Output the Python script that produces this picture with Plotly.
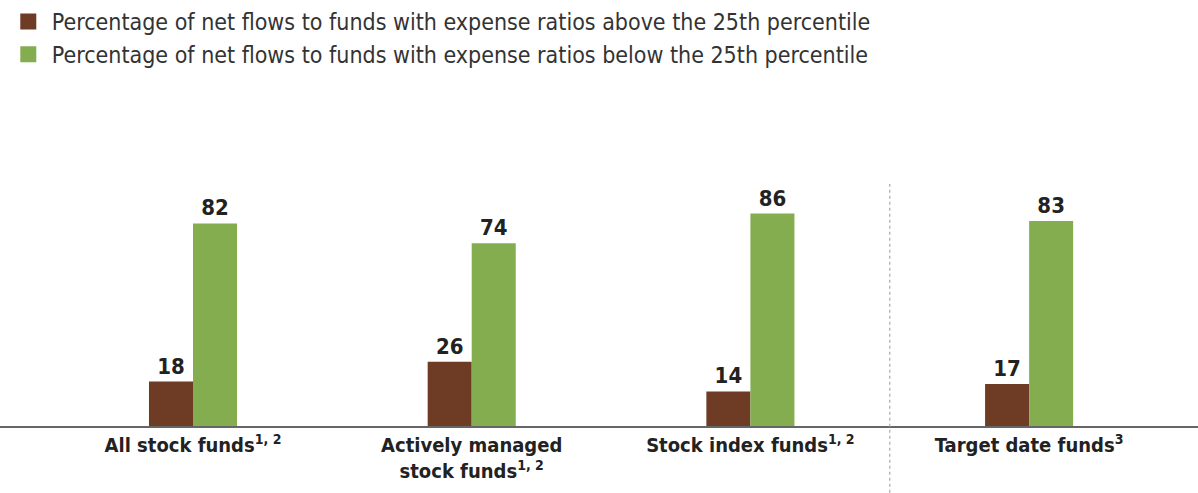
import plotly.graph_objects as go

categories = ["All stock funds<sup>1, 2</sup>",
              "Actively managed<br>stock funds<sup>1, 2</sup>",
              "Stock index funds<sup>1, 2</sup>",
              "Target date funds<sup>3</sup>"]
above_25th = [18, 26, 14, 17]
below_25th = [82, 74, 86, 83]
series_names = ["Percentage of net flows to funds with expense ratios above the 25th percentile",
                "Percentage of net flows to funds with expense ratios below the 25th percentile"]

BROWN = "#6E3B24"
GREEN = "#84AD50"
FONT = "DejaVu Sans Condensed"

x = list(range(len(categories)))

fig = go.Figure()
for vals, col in [(above_25th, BROWN), (below_25th, GREEN)]:
    fig.add_trace(go.Bar(
        x=x, y=vals, marker=dict(color=col, line=dict(width=0)),
        text=vals, texttemplate="<b>%{y}</b>", textposition="outside",
        textfont=dict(family=FONT, size=22, color="#222222"),
        cliponaxis=False, showlegend=False, hoverinfo="skip"))

# legend entries
for name, col in zip(series_names, [BROWN, GREEN]):
    fig.add_trace(go.Scatter(
        x=[None], y=[None], mode="markers", name=name,
        marker=dict(symbol="square", size=16, color=col)))

fig.add_shape(type="line", xref="x", yref="paper", x0=2.5, x1=2.5,
              y0=-0.27, y1=0.98, line=dict(color="#AAAAAA", width=1.2, dash="dot"))

fig.update_layout(
    width=1198, height=493,
    margin=dict(l=0, r=0, t=178, b=67),
    paper_bgcolor="white", plot_bgcolor="white",
    barmode="group", bargap=0.684, bargroupgap=0,
    font=dict(family=FONT, color="#333333"),
    legend=dict(x=0.004, y=1.725, xanchor="left", yanchor="top",
                font=dict(family=FONT, size=23, color="#333333"),
                tracegroupgap=2, itemwidth=37, bgcolor="rgba(0,0,0,0)"),
    xaxis=dict(range=[-0.6925, 3.606], tickvals=x, ticktext=[f"<b>{c}</b>" for c in categories],
               tickfont=dict(family=FONT, size=20, color="#222222"),
               showline=True, linecolor="#666666", linewidth=2, ticks="",
               showgrid=False, zeroline=False, fixedrange=True),
    yaxis=dict(range=[0, 100], visible=False, showgrid=False, zeroline=False, fixedrange=True),
)

fig.write_html("out.html", config={"displayModeBar": False},
               post_script="document.body.style.margin='0px';")
